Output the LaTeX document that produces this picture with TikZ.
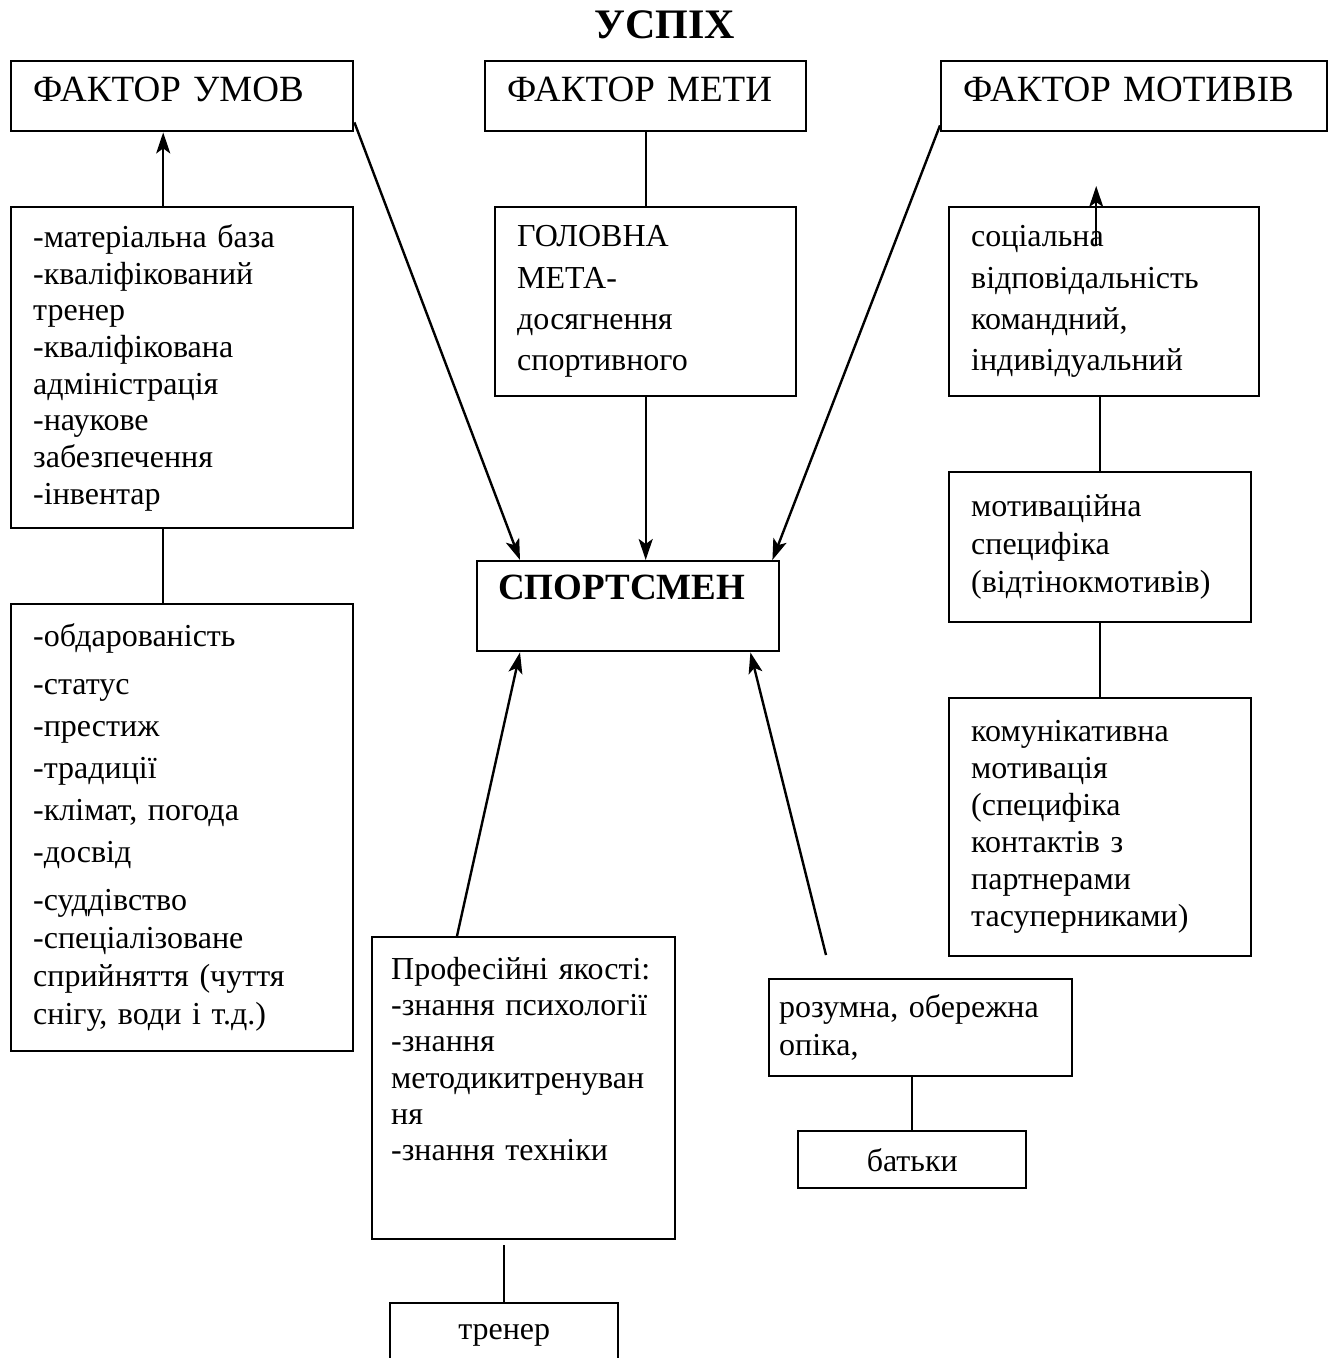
\documentclass[tikz,border=0pt]{standalone}
\usepackage{fontspec}
\setmainfont{Liberation Serif}
\usetikzlibrary{arrows.meta,calc}

\tikzset{
  blok/.style={draw, line width=2.4pt, anchor=north west, align=left, inner xsep=22pt, font=\fontsize{32}{36.7}\selectfont},
  faktor/.style={blok, font=\fontsize{37}{40}\selectfont, text height=25pt, text depth=15pt, inner ysep=15pt},
  strilka/.style={line width=2.4pt, -{Stealth[length=21pt,width=14pt,inset=5pt]}},
  liniya/.style={line width=2.4pt}
}

\begin{document}
\begin{tikzpicture}[x=1pt,y=-1pt]
\useasboundingbox (0,0) rectangle (1333,1358);
\node[font=\fontsize{42}{46}\selectfont\bfseries] (uspikh) at (665,25) {УСПІХ};
\node[faktor, minimum width=342pt, minimum height=70pt, text width=298pt] (fumov) at (10,60) {ФАКТОР УМОВ};
\node[faktor, minimum width=321pt, minimum height=70pt, text width=277pt] (fmeta) at (484,60) {ФАКТОР МЕТИ};
\node[faktor, minimum width=386pt, minimum height=70pt, text width=342pt] (fmotiv) at (940,60) {ФАКТОР МОТИВІВ};
\node[blok, minimum width=342pt, minimum height=321pt, text width=298pt] (umovy) at (10,206)
  {-матеріальна база\\-кваліфікований\\тренер\\-кваліфікована\\адміністрація\\-наукове\\забезпечення\\-інвентар};
\node[blok, minimum width=342pt, minimum height=447pt, text width=298pt, font=\fontsize{32}{38}\selectfont] (osoby) at (10,603)
  {-обдарованість\\[10pt]-статус\\[4pt]-престиж\\[4pt]-традиції\\[4pt]-клімат, погода\\[4pt]-досвід\\[10pt]-суддівство\\-спеціалізоване\\сприйняття (чуття\\снігу, води і т.д.)};
\node[blok, minimum width=301pt, minimum height=189pt, text width=257pt, font=\fontsize{32}{41.3}\selectfont] (meta) at (494,206)
  {ГОЛОВНА\\МЕТА-\\досягнення\\спортивного};
\node[blok, minimum width=310pt, minimum height=189pt, text width=266pt, font=\fontsize{32}{41.3}\selectfont] (social) at (948,206)
  {соціальна\\відповідальність\\командний,\\індивідуальний};
\node[blok, minimum width=302pt, minimum height=150pt, text width=258pt, font=\fontsize{32}{38}\selectfont] (motspec) at (948,471)
  {мотиваційна\\специфіка\\(відтінокмотивів)};
\node[blok, minimum width=302pt, minimum height=258pt, text width=258pt, font=\fontsize{32}{37}\selectfont] (komun) at (948,697)
  {комунікативна\\мотивація\\(специфіка\\контактів з\\партнерами\\тасуперниками)};
\node[blok, minimum width=302pt, minimum height=90pt, text width=260pt, inner xsep=21pt, font=\fontsize{37}{40}\selectfont\bfseries, text height=25pt, text depth=38pt, inner ysep=13.5pt] (sportsmen) at (476,560) {СПОРТСМЕН};
\node[blok, minimum width=303pt, minimum height=302pt, text width=265pt, inner xsep=19pt, font=\fontsize{32}{36.3}\selectfont, text height=22pt, text depth=240pt, inner ysep=20pt] (prof) at (371,936)
  {Професійні якості:\\-знання психології\\-знання\\методикитренуван\\ня\\-знання техніки};
\node[blok, minimum width=303pt, minimum height=97pt, text width=283pt, inner xsep=10pt, font=\fontsize{32}{38}\selectfont] (opika) at (768,978)
  {розумна, обережна\\опіка,};
\node[blok, minimum width=228pt, minimum height=57pt, align=center] (batky) at (797,1130) {батьки};
\node[blok, minimum width=228pt, minimum height=64pt, align=center] (trener) at (389,1302) {тренер};
\draw[strilka] ([xshift=-19pt]umovy.north) -- ([xshift=-19pt]fumov.south);
\draw[liniya] ([xshift=-19pt]umovy.south) -- ([xshift=-19pt]osoby.north);
\draw[strilka] ([yshift=10pt]fumov.south east) -- ([xshift=44pt]sportsmen.north west);
\draw[liniya] (fmeta.south) -- (meta.north);
\draw[strilka] (meta.south) -- (meta.south |- sportsmen.north);
\draw[strilka] ([yshift=7pt]fmotiv.south west) -- ([xshift=-8pt]sportsmen.north east);
\draw[strilka] ([xshift=-8pt,yshift=-39pt]social.north) -- ([xshift=-8pt,yshift=20pt]social.north);
\draw[liniya] (motspec.north |- social.south) -- (motspec.north);
\draw[liniya] (motspec.south) -- (komun.north);
\draw[strilka] ([xshift=86pt]prof.north west) -- ([xshift=44pt]sportsmen.south west);
\draw[strilka] ([xshift=58pt,yshift=23pt]opika.north west) -- ([xshift=-30pt]sportsmen.south east);
\draw[liniya] (batky.north |- opika.south) -- (batky.north);
\draw[liniya] ($(trener.north |- prof.south)+(0,5)$) -- (trener.north);
\end{tikzpicture}
\end{document}
